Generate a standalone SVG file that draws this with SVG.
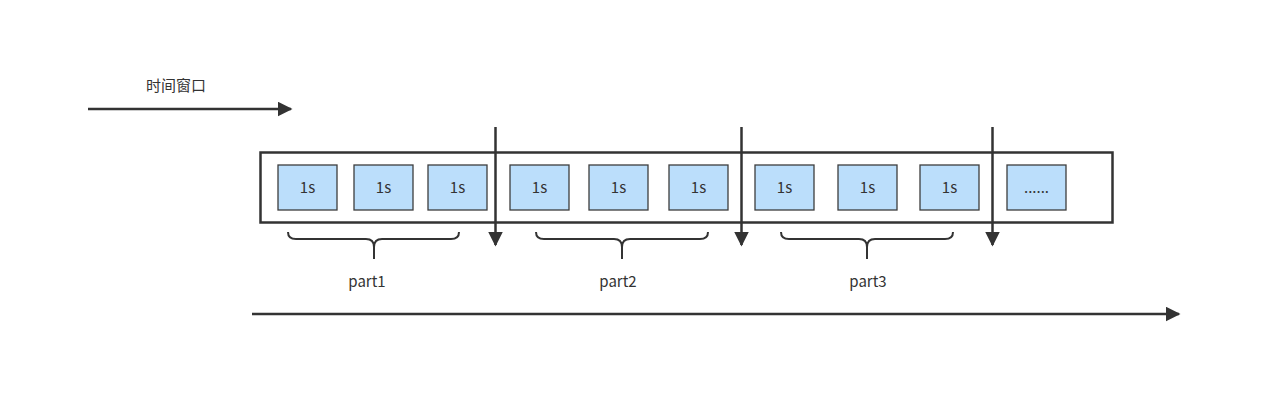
<svg xmlns="http://www.w3.org/2000/svg" width="1276" height="414" viewBox="0 0 1276 414">
<defs>
<style>
.cell{fill:#bbdefb;stroke:#3d3d3d;stroke-width:1.3}
.t{font-family:"Noto Sans CJK SC","Noto Sans",sans-serif;font-size:15px;fill:#333;text-anchor:middle;dominant-baseline:central}
.ln{stroke:#333;stroke-width:2.5;fill:none}
.br{stroke:#333;stroke-width:2;fill:none}
</style>
<marker id="ah" viewBox="0 0 10 10" refX="9" refY="5" markerWidth="6" markerHeight="6" markerUnits="strokeWidth" orient="auto">
<path d="M0,0 L10,5 L0,10 Z" fill="#333"/>
</marker>
</defs>
<rect width="1276" height="414" fill="#fff"/>
<g id="window-label"><text class="t" x="176" y="84">时间窗口</text></g>
<g id="container"><rect x="260.5" y="152.5" width="852" height="70" fill="none" stroke="#333" stroke-width="2.5"/></g>
<g id="c1"><rect class="cell" x="278" y="165" width="59" height="45"/><text class="t" x="307.5" y="186.5">1s</text></g>
<g id="c2"><rect class="cell" x="354" y="165" width="59" height="45"/><text class="t" x="383.5" y="186.5">1s</text></g>
<g id="c3"><rect class="cell" x="428" y="165" width="59" height="45"/><text class="t" x="457.5" y="186.5">1s</text></g>
<g id="c4"><rect class="cell" x="510" y="165" width="59" height="45"/><text class="t" x="539.5" y="186.5">1s</text></g>
<g id="c5"><rect class="cell" x="589" y="165" width="59" height="45"/><text class="t" x="618.5" y="186.5">1s</text></g>
<g id="c6"><rect class="cell" x="669" y="165" width="59" height="45"/><text class="t" x="698.5" y="186.5">1s</text></g>
<g id="c7"><rect class="cell" x="755" y="165" width="59" height="45"/><text class="t" x="784.5" y="186.5">1s</text></g>
<g id="c8"><rect class="cell" x="838" y="165" width="59" height="45"/><text class="t" x="867.5" y="186.5">1s</text></g>
<g id="c9"><rect class="cell" x="920" y="165" width="59" height="45"/><text class="t" x="949.5" y="186.5">1s</text></g>
<g id="c10"><rect class="cell" x="1007" y="165" width="59" height="45"/><text class="t" x="1036.5" y="186.5">......</text></g>
<g id="brace1"><path class="br" d="M288,232 Q288,239 296,239 L366,239 Q374,239 374,247 L374,259 M374,247 Q374,239 382,239 L451,239 Q459,239 459,232"/><text class="t" x="367" y="280">part1</text></g>
<g id="brace2"><path class="br" d="M536,232 Q536,239 544,239 L614,239 Q622,239 622,247 L622,259 M622,247 Q622,239 630,239 L700,239 Q708,239 708,232"/><text class="t" x="618" y="280">part2</text></g>
<g id="brace3"><path class="br" d="M781,232 Q781,239 789,239 L859,239 Q867,239 867,247 L867,259 M867,247 Q867,239 875,239 L945,239 Q953,239 953,232"/><text class="t" x="868" y="280">part3</text></g>
<g id="connectors">
<line class="ln" x1="88" y1="109" x2="291" y2="109" marker-end="url(#ah)"/>
<line class="ln" x1="495.5" y1="127" x2="495.5" y2="245" marker-end="url(#ah)"/>
<line class="ln" x1="741.5" y1="127" x2="741.5" y2="245" marker-end="url(#ah)"/>
<line class="ln" x1="992.5" y1="127" x2="992.5" y2="245" marker-end="url(#ah)"/>
<line class="ln" x1="252" y1="314" x2="1179" y2="314" marker-end="url(#ah)"/>
</g>
</svg>
